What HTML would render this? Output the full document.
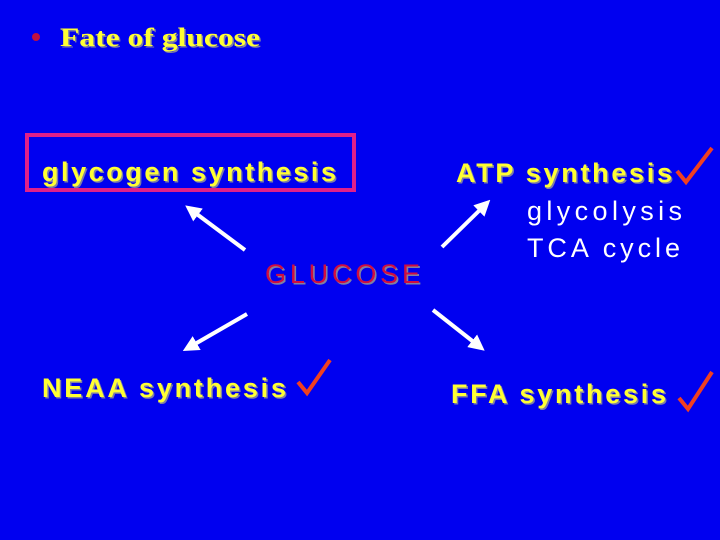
<!DOCTYPE html>
<html><head><style>
body{margin:0;background:#0000f0;}
svg{display:block}
.y{font-family:"Liberation Sans",sans-serif;fill:#ffff33;}
</style></head><body>
<svg width="720" height="540" viewBox="0 0 720 540" xmlns="http://www.w3.org/2000/svg">
<defs>
<marker id="a" markerWidth="4" markerHeight="4" refX="2.5" refY="2" orient="auto" markerUnits="strokeWidth"><path d="M0,0 L4,2 L0,4z" fill="#fff"/></marker>
<filter id="s"><feDropShadow dx="1.5" dy="1.5" stdDeviation="0" flood-color="#8080a0"/></filter>
</defs>
<rect width="720" height="540" fill="#0000f0"/>
<circle cx="36" cy="37" r="4" fill="#c01040"/>
<text x="60" y="46" font-family="Liberation Serif,serif" font-weight="bold" font-size="26" fill="#ffff33" filter="url(#s)" textLength="200" lengthAdjust="spacingAndGlyphs">Fate of glucose</text>
<rect x="27" y="135" width="327" height="55" fill="none" stroke="#e0208a" stroke-width="4"/>
<g filter="url(#s)" font-size="27" class="y" font-weight="bold">
<text x="42" y="181" class="y" textLength="294">glycogen synthesis</text>
<text x="456" y="182" class="y" textLength="216">ATP synthesis</text>
<text x="42" y="397" class="y" textLength="244">NEAA synthesis</text>
<text x="451" y="403" class="y" textLength="215">FFA synthesis</text>
</g>
<text x="265" y="283" font-family="Liberation Sans,sans-serif" font-size="27" fill="#d01040" filter="url(#s)" textLength="155">GLUCOSE</text>
<text x="527" y="220" font-family="Liberation Sans,sans-serif" font-size="27" fill="#fff" textLength="155">glycolysis</text>
<text x="527" y="257" font-family="Liberation Sans,sans-serif" font-size="27" fill="#fff" textLength="153">TCA cycle</text>
<g stroke="#fff" stroke-width="4" marker-end="url(#a)">
<line x1="245" y1="250" x2="190" y2="209"/>
<line x1="247" y1="314" x2="188" y2="348"/>
<line x1="442" y1="247" x2="486" y2="204"/>
<line x1="433" y1="310" x2="480" y2="347"/>
</g>
<g stroke="#f04020" stroke-width="4" fill="none">
<path d="M298,382 L307,393 L330,360"/>
<path d="M677,171 L686,182 L712,148"/>
<path d="M679,398 L688,409 L712,372"/>
</g>
</svg>
</body></html>
